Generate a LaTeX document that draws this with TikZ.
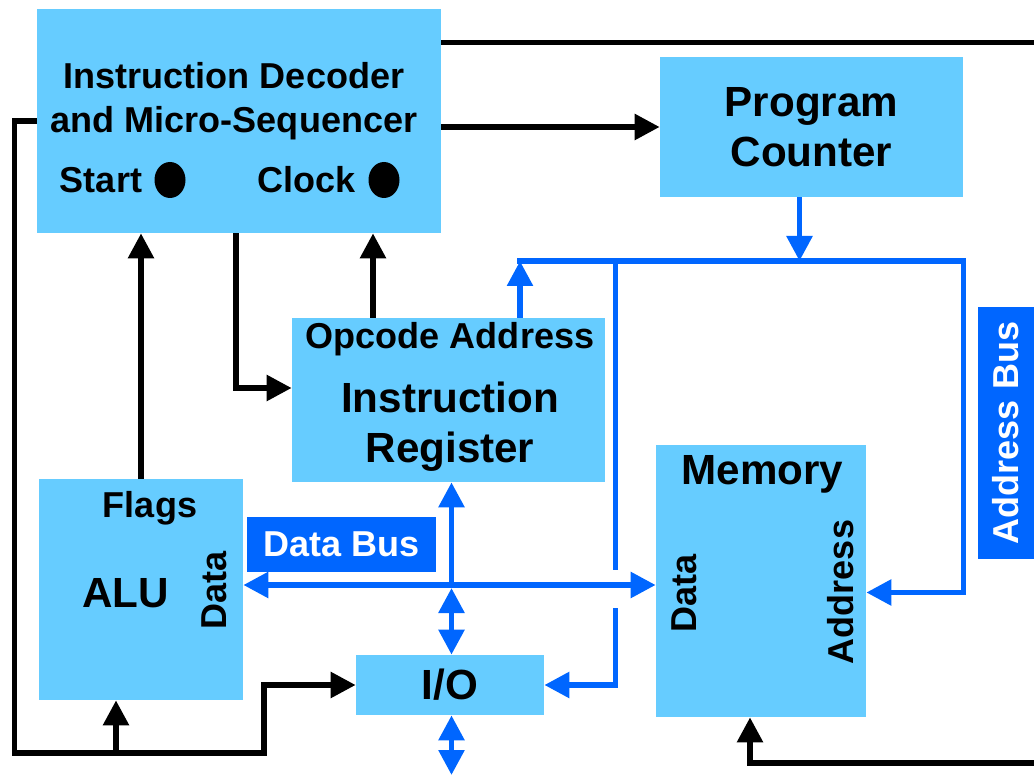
\documentclass[tikz,border=0pt]{standalone}
\usepackage{fontspec}
\setmainfont{Liberation Sans}
\usetikzlibrary{arrows.meta}
\definecolor{celeste}{HTML}{66CCFF}
\definecolor{azul}{HTML}{0066FF}
\newcommand{\letrachica}{\fontsize{20.5}{25}\selectfont\bfseries}
\newcommand{\letragrande}{\fontsize{24}{28.5}\selectfont\bfseries}

\begin{document}
\begin{tikzpicture}[
		caja/.style={fill=celeste, inner sep=0pt},
		rotulo/.style={fill=azul, text=white, inner sep=0pt, font=\letrachica},
		linea/.style={line width=3.2pt, black},
		bus/.style={line width=3.2pt, azul},
		punta/.style={-{Triangle[length=0.5cm,width=0.5cm]}},
		doble/.style={{Triangle[length=0.5cm,width=0.5cm]}-{Triangle[length=0.5cm,width=0.5cm]}}
	]
	\useasboundingbox (0,0) rectangle (20.68,15.5);

	% Bloques
	\node[caja, minimum width=8.08cm, minimum height=4.48cm] (dec) at (4.78,13.08) {};
	\node[caja, minimum width=6.06cm, minimum height=2.8cm, align=center, font=\letragrande] (pc) at (16.23,12.96) {Program\\Counter};
	\node[caja, minimum width=6.26cm, minimum height=3.28cm] (ir) at (8.97,7.5) {};
	\node[caja, minimum width=4.08cm, minimum height=4.42cm] (alu) at (2.82,3.71) {};
	\node[caja, minimum width=4.2cm, minimum height=5.44cm] (mem) at (15.22,3.88) {};
	\node[caja, minimum width=3.76cm, minimum height=1.2cm, font=\letragrande] (io) at (9.0,1.8) {I/O};

	% Rotulos de los buses
	\node[rotulo, minimum width=3.78cm, minimum height=1.1cm] (dbus) at (6.83,4.61) {Data Bus};
	\node[rotulo, minimum width=5.04cm, minimum height=1.12cm, rotate=90] (abus) at (20.12,6.84) {Address Bus};

	% Textos dentro de los bloques
	\node[align=center, font=\letrachica] (dectxt) at (4.68,13.48) {Instruction Decoder\\and Micro-Sequencer};
	\node[anchor=base, font=\letrachica] (start) at (2.02,11.64) {Start};
	\node[anchor=base, font=\letrachica] (clock) at (6.13,11.64) {Clock};
	\fill (3.4,11.9) ellipse (0.31 and 0.36);
	\fill (7.68,11.9) ellipse (0.31 and 0.36);
	\node[anchor=base, font=\letrachica] (opad) at (9.0,8.52) {Opcode Address};
	\node[align=center, font=\letragrande] (irtxt) at (9.0,6.97) {Instruction\\Register};
	\node[anchor=base, font=\letrachica] (flags) at (3.0,5.16) {Flags};
	\node[anchor=base, font=\letragrande] (alutxt) at (2.51,3.36) {ALU};
	\node[rotate=90, font=\letrachica] (aludata) at (4.28,3.69) {Data};
	\node[anchor=base, font=\letragrande] (memtxt) at (15.25,5.8) {Memory};
	\node[rotate=90, font=\letrachica] (memdata) at (13.68,3.64) {Data};
	\node[rotate=90, font=\letrachica] (memaddr) at (16.82,3.66) {Address};

	% Puntos auxiliares
	\coordinate (arriba) at (20.68,14.65);
	\coordinate (esq) at (0.29,0.44);
	\coordinate (sube) at (5.28,0.44);
	\coordinate (rama) at (2.32,0.44);
	\coordinate (irin) at ([yshift=0.24cm]ir.west);
	\coordinate (clk) at ([xshift=-1.51cm]ir.north);
	\coordinate (abajo) at (20.68,0.24);
	\coordinate (memin) at ([xshift=-0.22cm]mem.south);
	\coordinate (pcout) at ([xshift=-0.24cm]pc.south);
	\coordinate (abi) at (10.4,10.28);
	\coordinate (abd) at (19.27,10.28);
	\coordinate (memad) at ([yshift=-0.23cm]mem.east);
	\coordinate (baja) at (12.31,10.28);
	\coordinate (corte) at (12.31,4.1);
	\coordinate (iox) at (12.31,3.34);
	\coordinate (db) at (9.03,3.8);
	\coordinate (fondo) at (9.03,0);

	% Lineas de control (negras)
	\draw[linea] (dec.east |- arriba) -- (arriba);
	\draw[linea, punta] (dec.east |- pc.west) -- (pc.west);
	\draw[linea, punta] (dec.west) -| (esq) -- (sube) |- (io.west);
	\draw[linea, punta] (rama) -- (rama |- alu.south);
	\draw[linea, punta] (alu.north) -- (alu.north |- dec.south);
	\draw[linea, punta] ([xshift=-0.06cm]dec.south) |- (irin);
	\draw[linea, punta] (clk) -- (clk |- dec.south);
	\draw[linea, punta] (abajo) -| (memin);

	% Bus de direcciones
	\draw[bus, punta] (pcout) -- (pcout |- abd);
	\draw[bus, punta] (abi |- ir.north) -- (abi);
	\draw[bus, punta] ([xshift=-1.6pt]abi) -- (abd) |- (memad);
	\draw[bus] (baja) -- (corte);
	\draw[bus, punta] (iox) |- (io.east);

	% Bus de datos
	\draw[bus, doble] (alu.east |- db) -- (mem.west |- db);
	\draw[bus, punta] (db) -- (db |- ir.south);
	\draw[bus, doble] ([yshift=-0.06cm]db) -- (db |- io.north);
	\draw[bus, doble] (db |- io.south) -- (fondo);
\end{tikzpicture}
\end{document}
